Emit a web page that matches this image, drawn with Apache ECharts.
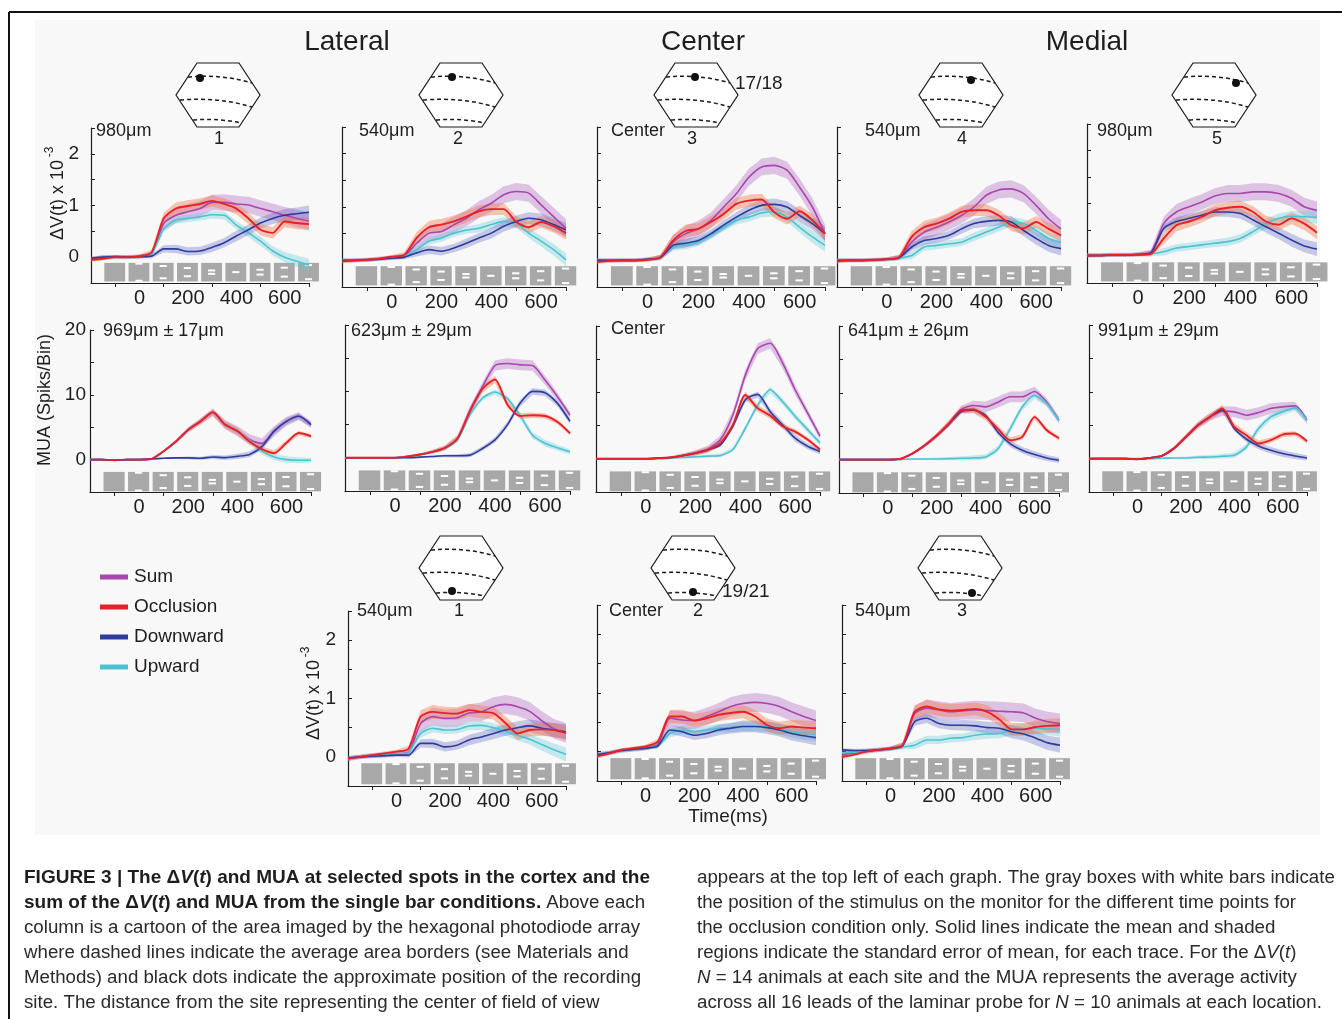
<!DOCTYPE html>
<html>
<head>
<meta charset="utf-8">
<script src="https://cdn.jsdelivr.net/npm/echarts@6/dist/echarts.min.js"></script>
<style>
html,body{margin:0;padding:0;background:#fff;}
#chart{width:1342px;height:1019px;}
</style>
</head>
<body>
<div id="chart"></div>
<script>
// ---------------- DATA ----------------
// time grid (ms)
const T = [-200,-150,-100,-50,0,50,100,150,200,250,300,350,400,450,500,550,600,650,700];

// x tick values / labels
const X_TICKS = [-100,100,300,500,700];
const X_LABELS = [0,200,400,600];
const DV_LABELS = [0,1,2];
const MUA_LABELS = [0,10,20];

// Row 1: dV(t) x 1e-3, upper sites (1..5)
const p1_sum  = [-0.03,0,0,0,0.01,0.06,0.65,0.81,0.88,0.94,1.06,1.06,1.03,1.01,0.94,0.88,0.81,0.75,0.70];
const p1_occ  = [-0.05,-0.03,0,0,0.02,0.09,0.75,0.94,0.99,1.03,1.09,1.03,0.94,0.75,0.53,0.47,0.69,0.66,0.64];
const p1_down = [-0.02,0,0.01,0,0.01,0.02,0.16,0.16,0.11,0.12,0.19,0.28,0.41,0.53,0.66,0.75,0.81,0.84,0.87];
const p1_up   = [-0.03,0,0,0,0.01,0.06,0.55,0.72,0.75,0.78,0.82,0.81,0.62,0.47,0.31,0.12,0,-0.08,-0.15];

const p2_sum  = [0,0,0.01,0.03,0.05,0.08,0.32,0.51,0.54,0.67,0.79,0.95,1.07,1.23,1.29,1.26,1.04,0.82,0.60];
const p2_occ  = [-0.02,0,0.01,0.03,0.07,0.10,0.42,0.62,0.67,0.73,0.82,0.92,0.96,0.96,0.72,0.62,0.72,0.64,0.51];
const p2_down = [0,0,0.01,0.02,0.04,0.06,0.14,0.20,0.17,0.23,0.32,0.42,0.51,0.64,0.73,0.79,0.76,0.67,0.57];
const p2_up   = [0,0,0.01,0.03,0.05,0.08,0.20,0.36,0.42,0.51,0.57,0.60,0.67,0.73,0.70,0.51,0.36,0.20,0.01];

const p3_sum  = [0,0,0,0,0.02,0.05,0.34,0.50,0.59,0.75,1.00,1.25,1.56,1.75,1.78,1.69,1.37,1.00,0.50];
const p3_occ  = [-0.03,-0.01,0,0,0.01,0.06,0.37,0.55,0.59,0.72,0.87,1.06,1.12,1.14,0.90,0.78,0.92,0.75,0.50];
const p3_down = [0,0,0,0,0.02,0.05,0.28,0.32,0.37,0.50,0.66,0.81,0.94,1.03,1.05,1.00,0.84,0.69,0.50];
const p3_up   = [0,0,0,0,0.02,0.05,0.25,0.28,0.34,0.47,0.62,0.75,0.81,0.89,0.91,0.81,0.62,0.44,0.28];

const p4_sum  = [0,0,0,0.01,0.02,0.05,0.34,0.53,0.62,0.72,0.84,1.00,1.22,1.32,1.34,1.25,1.03,0.78,0.59];
const p4_occ  = [-0.02,0,0,0.01,0.02,0.06,0.44,0.62,0.69,0.78,0.91,0.94,0.94,0.84,0.66,0.60,0.72,0.59,0.47];
const p4_down = [0,0,0,0.01,0.02,0.05,0.25,0.37,0.41,0.47,0.59,0.69,0.73,0.75,0.72,0.56,0.41,0.28,0.22];
const p4_up   = [0,0,0,0.01,0.02,0.04,0.09,0.25,0.28,0.31,0.34,0.44,0.53,0.62,0.72,0.69,0.56,0.41,0.34];

const p5_sum  = [0.02,0.02,0.03,0.03,0.04,0.08,0.62,0.84,0.94,1.03,1.14,1.19,1.19,1.22,1.22,1.19,1.10,0.94,0.87];
const p5_occ  = [0.02,0.02,0.03,0.03,0.03,0.05,0.34,0.59,0.66,0.75,0.87,0.92,0.94,0.84,0.66,0.60,0.72,0.62,0.45];
const p5_down = [0.02,0.02,0.03,0.03,0.04,0.07,0.53,0.66,0.72,0.78,0.84,0.84,0.81,0.69,0.56,0.44,0.31,0.20,0.14];
const p5_up   = [0.02,0.02,0.03,0.03,0.04,0.05,0.09,0.16,0.19,0.22,0.25,0.28,0.34,0.47,0.62,0.72,0.76,0.75,0.74];

// Row 2: MUA (spikes/bin)
const p6_sum  = [0,0,-0.1,0,0,0.1,1.3,2.8,4.6,5.9,7.3,5.4,4.4,3.1,2.5,4.4,5.9,6.7,5.4];
const p6_occ  = [0,0,-0.1,0,0,0.1,1.3,2.8,4.6,5.9,7.3,5.4,4.4,2.8,1.6,1.0,2.6,4.1,3.6];
const p6_down = [0,0,-0.1,0,0,0.1,0.2,0.26,0.26,0.2,0.4,0.3,0.5,0.8,2.0,4.4,5.9,6.7,5.4];
const p6_up   = [0,0,-0.1,0,0,0.1,1.3,2.8,4.6,5.9,7.3,5.4,4.4,3.0,1.3,0.4,0,-0.1,-0.1];

const p7_sum  = [0,0,0,0,0,0.2,0.5,0.9,1.5,2.9,7.2,10.7,13.9,14.2,14.0,13.9,11.7,9.2,6.4];
const p7_occ  = [0,0,0,0,0,0.2,0.5,0.9,1.5,2.9,7.0,10.4,11.8,8.0,6.3,6.4,6.3,5.4,3.7];
const p7_down = [0,0,0,0,0,0,0.1,0.2,0.3,0.3,0.4,1.4,2.7,5.0,8.2,10.0,9.8,8.2,5.5];
const p7_up   = [0,0,0,0,0,0.2,0.5,0.9,1.4,2.7,6.5,9.0,9.9,8.9,6.4,3.4,2.2,1.5,0.9];

const p8_sum  = [0,0,0,0,0,0.1,0.2,0.5,0.9,1.5,2.9,6.6,12.6,16.6,17.4,14.4,10.4,6.9,3.4];
const p8_occ  = [0,0,0,0,0,0.1,0.2,0.5,0.85,1.35,2.4,5.1,9.6,7.6,6.5,4.9,4.1,2.9,1.4];
const p8_down = [0,0,0,0,0,0.1,0.2,0.5,0.85,1.35,2.1,4.9,8.9,9.7,7.1,5.1,3.1,1.9,1.1];
const p8_up   = [0,0,0,0,0,0,0.1,0.2,0.3,0.4,0.5,1.4,4.6,8.1,10.4,8.6,6.4,4.4,2.4];

const p9_sum  = [0,0,0,0,0,0.1,0.9,2.1,3.6,5.4,7.5,8.1,7.9,8.6,9.4,9.4,10.2,8.6,5.9];
const p9_occ  = [0,0,0,0,0,0.1,0.9,2.1,3.6,5.4,7.4,7.5,6.4,4.6,2.9,3.4,6.4,4.4,3.2];
const p9_down = [0,0,0,0,0,0.1,0.9,2.1,3.6,5.3,7.2,7.4,6.6,4.1,2.4,1.4,0.75,0.25,-0.1];
const p9_up   = [0,0,0,0,0,0,0.1,0.1,0.1,0.15,0.2,0.25,0.4,1.6,4.6,7.9,9.6,8.4,5.9];

const p10_sum  = [0,0,0,0,-0.1,0.1,0.4,1.5,3.25,5.0,6.25,7.1,7.0,6.5,6.9,7.5,7.75,7.9,5.75];
const p10_occ  = [0,0,0,0,-0.1,0.1,0.4,1.5,3.25,5.0,6.25,7.5,4.75,3.5,2.25,2.75,3.6,3.75,2.6];
const p10_down = [0,0,0,0,-0.1,0.1,0.4,1.5,3.25,5.0,6.25,7.3,4.5,2.9,1.9,1.25,0.75,0.4,0.1];
const p10_up   = [0,0,0,0,0,0,0.05,0.1,0.1,0.2,0.25,0.35,0.5,1.75,4.5,6.25,7.0,7.6,5.75];

// Row 3: dV(t) x 1e-3, lower sites (1..3)
const p11_sum  = [-0.03,0,0.02,0.03,0.05,0.08,0.57,0.69,0.66,0.67,0.75,0.77,0.86,0.90,0.86,0.78,0.62,0.48,0.41];
const p11_occ  = [-0.03,0,0.03,0.06,0.09,0.14,0.69,0.77,0.75,0.74,0.80,0.77,0.75,0.58,0.40,0.46,0.47,0.46,0.41];
const p11_down = [-0.02,0,0.01,0.02,0.03,0.03,0.23,0.23,0.17,0.20,0.29,0.34,0.40,0.46,0.50,0.53,0.49,0.46,0.43];
const p11_up   = [-0.03,0,0.02,0.03,0.05,0.08,0.40,0.49,0.46,0.47,0.53,0.54,0.50,0.44,0.37,0.30,0.21,0.12,0.04];

const p12_sum  = [-0.05,-0.02,0.02,0.04,0.06,0.12,0.57,0.54,0.53,0.60,0.68,0.77,0.82,0.84,0.82,0.77,0.68,0.60,0.53];
const p12_occ  = [-0.08,-0.03,0.03,0.06,0.09,0.17,0.60,0.60,0.53,0.57,0.63,0.66,0.68,0.60,0.45,0.40,0.43,0.41,0.40];
const p12_down = [-0.05,-0.02,0.02,0.04,0.06,0.10,0.37,0.34,0.28,0.31,0.37,0.40,0.43,0.43,0.41,0.37,0.31,0.27,0.24];
const p12_up   = [-0.05,-0.02,0.02,0.04,0.06,0.10,0.31,0.37,0.34,0.37,0.40,0.41,0.43,0.43,0.43,0.38,0.34,0.31,0.30];

const p13_sum  = [-0.05,-0.02,0.01,0.03,0.05,0.10,0.65,0.74,0.71,0.68,0.70,0.71,0.70,0.69,0.68,0.66,0.57,0.51,0.48];
const p13_occ  = [-0.09,-0.05,0,0.03,0.06,0.11,0.68,0.77,0.72,0.70,0.71,0.73,0.68,0.55,0.38,0.38,0.42,0.44,0.45];
const p13_down = [0.03,0.02,0.02,0.03,0.05,0.10,0.51,0.57,0.48,0.45,0.45,0.44,0.41,0.40,0.34,0.30,0.23,0.15,0.11];
const p13_up   = [-0.02,-0.01,0.01,0.03,0.05,0.08,0.11,0.20,0.20,0.23,0.24,0.28,0.30,0.31,0.37,0.38,0.40,0.39,0.38];

// standard-error profiles (shaded regions)
const dv_sum_se  = [0.04,0.04,0.04,0.04,0.04,0.05,0.13,0.15,0.15,0.15,0.15,0.16,0.16,0.16,0.16,0.16,0.16,0.17,0.17];
const dv_occ_se  = [0.04,0.03,0.03,0.03,0.03,0.05,0.11,0.12,0.11,0.11,0.11,0.11,0.11,0.11,0.11,0.11,0.11,0.12,0.12];
const dv_down_se = [0.03,0.03,0.03,0.03,0.03,0.04,0.07,0.08,0.08,0.08,0.09,0.09,0.10,0.10,0.11,0.11,0.12,0.12,0.13];
const dv_up_se   = [0.03,0.03,0.03,0.03,0.03,0.04,0.07,0.07,0.07,0.07,0.07,0.08,0.08,0.08,0.09,0.09,0.10,0.11,0.12];
const mua_sum_se  = [0.15,0.15,0.15,0.15,0.15,0.15,0.2,0.3,0.4,0.5,0.6,0.7,0.8,0.8,0.8,0.8,0.7,0.6,0.5];
const mua_occ_se  = [0.1,0.1,0.1,0.1,0.1,0.1,0.15,0.25,0.35,0.45,0.5,0.55,0.55,0.5,0.45,0.4,0.4,0.35,0.3];
const mua_down_se = [0.1,0.1,0.1,0.1,0.1,0.1,0.12,0.15,0.2,0.25,0.3,0.35,0.4,0.45,0.5,0.5,0.5,0.45,0.4];
const mua_up_se   = [0.1,0.1,0.1,0.1,0.1,0.1,0.12,0.15,0.2,0.25,0.3,0.35,0.4,0.45,0.5,0.5,0.5,0.45,0.4];

// stimulus boxes: start time of each box (ms), box duration, white bar offsets
const BOX_START = [-145,-45,55,155,255,355,455,555,655];
const BOX_DUR = 86;
const BAR_OFFSETS = [[],[0.46,-0.46],[0.33,-0.33],[0.22,-0.22],[0.09,-0.09],[0],[0.13,-0.13],[0.24,-0.24],[0.38,-0.38]];

// panel header labels
const ROW1_LABELS = ['980μm','540μm','Center','540μm','980μm'];
const ROW2_LABELS = ['969μm ± 17μm','623μm ± 29μm','Center','641μm ± 26μm','991μm ± 29μm'];
const ROW3_LABELS = ['540μm','Center','540μm'];
const LEGEND_NAMES = ['Sum','Occlusion','Downward','Upward'];

// ---------------- LAYOUT / STYLE ----------------
const GRIDS = [
  [91,128,218,155],[342,127,224,160],[597,127,228,160],[837,127,224,160],[1087,124,230,159],
  [90,330,221,162],[345,325,225,166],[596,326,224,166],[839,326,220,167],[1089,325,218,167],
  [348,611,218,175],[597,605,219,176],[842,605,218,176]
];
const PANEL_DATA = [
  [p1_sum,p1_occ,p1_down,p1_up],[p2_sum,p2_occ,p2_down,p2_up],[p3_sum,p3_occ,p3_down,p3_up],
  [p4_sum,p4_occ,p4_down,p4_up],[p5_sum,p5_occ,p5_down,p5_up],
  [p6_sum,p6_occ,p6_down,p6_up],[p7_sum,p7_occ,p7_down,p7_up],[p8_sum,p8_occ,p8_down,p8_up],
  [p9_sum,p9_occ,p9_down,p9_up],[p10_sum,p10_occ,p10_down,p10_up],
  [p11_sum,p11_occ,p11_down,p11_up],[p12_sum,p12_occ,p12_down,p12_up],[p13_sum,p13_occ,p13_down,p13_up]
];
const PANEL_KIND = ['dv','dv','dv','dv','dv','mua','mua','mua','mua','mua','dv','dv','dv'];
const SE = {
  dv:[dv_sum_se,dv_occ_se,dv_down_se,dv_up_se],
  mua:[mua_sum_se,mua_occ_se,mua_down_se,mua_up_se]
};
const LABELLED = [0,5,10];
const LINE_COLORS = ['#a847ad','#e8202a','#2e3c9c','#4ec3d0'];
const BAND_COLORS = ['rgba(178,100,190,0.36)','rgba(242,115,70,0.40)','rgba(75,85,190,0.30)','rgba(95,200,215,0.33)'];
const FONT = '"Liberation Sans", Arial, Helvetica, sans-serif';
const INK = '#1e1e1e';

// ---------------- BUILD ----------------
const chart = echarts.init(document.getElementById('chart'), null, {renderer:'canvas'});

const grid = [], xAxis = [], yAxis = [], series = [];
GRIDS.forEach((g, i) => {
  const kind = PANEL_KIND[i];
  grid.push({left:g[0], top:g[1], width:g[2], height:g[3], outerBoundsMode:'none'});
  xAxis.push({
    type:'value', gridIndex:i, min:-200, max:700, interval:100,
    axisLine:{onZero:false, lineStyle:{color:INK, width:1.2}},
    axisTick:{show:true, length:4, inside:false, customValues:X_TICKS, lineStyle:{color:INK}},
    axisLabel:{show:true, customValues:X_LABELS, fontSize:20, color:INK, fontFamily:FONT, margin:5},
    splitLine:{show:false}
  });
  const isDV = kind === 'dv';
  yAxis.push({
    type:'value', gridIndex:i,
    min: isDV ? -0.5 : -5, max: isDV ? 2.5 : 20, interval: isDV ? 0.5 : 5,
    axisLine:{show:true, onZero:false, lineStyle:{color:INK, width:1.2}},
    axisTick:{show:true, inside:true, length:4, lineStyle:{color:INK}},
    axisLabel:{show: LABELLED.indexOf(i) >= 0, customValues: isDV ? DV_LABELS : MUA_LABELS,
               fontSize:19, color:INK, fontFamily:FONT, margin: isDV ? 12 : 4},
    splitLine:{show:false}
  });
});

// stimulus boxes
GRIDS.forEach((g, i) => {
  const isDV = PANEL_KIND[i] === 'dv';
  const yLo = isDV ? -0.47 : -4.9, yHi = isDV ? -0.11 : -1.9;
  series.push({
    type:'custom', xAxisIndex:i, yAxisIndex:i, silent:true, z:1,
    encode:{x:[0,1], y:[2,3]},
    data: BOX_START.map((s, k) => [s, s + BOX_DUR, yLo, yHi, k]),
    renderItem: function(params, api){
      const p0 = api.coord([api.value(0), api.value(3)]);
      const p1 = api.coord([api.value(1), api.value(2)]);
      const w = p1[0]-p0[0], h = p1[1]-p0[1];
      const k = api.value(4);
      const children = [{type:'rect', shape:{x:p0[0], y:p0[1], width:w, height:h}, style:{fill:'#a8a8a8'}}];
      BAR_OFFSETS[k].forEach(o => {
        const cy = p0[1] + h/2 - o*h;
        children.push({type:'rect', shape:{x:p0[0]+w*0.33, y:cy-1, width:w*0.34, height:2}, style:{fill:'#ffffff'}});
      });
      return {type:'group', children};
    }
  });
});

// bands: one polygon per trace built from [t, lower, upper] data via the axes
function renderBand(color){
  return function(params, api){
    if (params.dataIndex !== 0) return null;
    const n = params.dataInsideLength !== undefined ? params.dataInsideLength : T.length;
    const top = [], bot = [];
    for (let j = 0; j < T.length; j++) {
      const t = api.value(0, j);
      top.push(api.coord([t, api.value(2, j)]));
      bot.push(api.coord([t, api.value(1, j)]));
    }
    return {type:'polygon', shape:{points: top.concat(bot.reverse())}, style:{fill:color}};
  };
}
const ORDER = [0,3,2,1];
GRIDS.forEach((g, i) => {
  const se = SE[PANEL_KIND[i]];
  ORDER.forEach(k => {
    const m = PANEL_DATA[i][k], e = se[k];
    series.push({type:'custom', xAxisIndex:i, yAxisIndex:i, silent:true, z:2,
      encode:{x:0, y:[1,2]},
      data: T.map((t, j) => [t, +(m[j]-e[j]).toFixed(3), +(m[j]+e[j]).toFixed(3)]),
      renderItem: renderBand(BAND_COLORS[k])});
  });
});
// mean lines
GRIDS.forEach((g, i) => {
  ORDER.forEach(k => {
    series.push({type:'line', xAxisIndex:i, yAxisIndex:i, symbol:'none', smooth:0.25, silent:true, z:3,
      lineStyle:{color:LINE_COLORS[k], width: k===1 ? 1.9 : 1.6},
      data: T.map((t, j) => [t, PANEL_DATA[i][k][j]])});
  });
});

// ---------------- GRAPHICS ----------------
const G = [];
G.push({type:'rect', shape:{x:35, y:20, width:1285, height:815}, style:{fill:'#f8f8f8'}, z:-10});
G.push({type:'line', shape:{x1:9, y1:12, x2:1342, y2:12}, style:{stroke:'#111', lineWidth:2}});
G.push({type:'line', shape:{x1:9, y1:12, x2:9, y2:1019}, style:{stroke:'#111', lineWidth:2}});

function txt(x, y, s, size, opts){
  return Object.assign({type:'text', x, y, style:Object.assign({text:s, fontSize:size, fontFamily:FONT, fill:INK,
    textAlign:'left', verticalAlign:'middle'}, (opts && opts.style) || {})},
    opts && opts.rotation !== undefined ? {rotation:opts.rotation} : {});
}
// column headers
G.push(txt(347, 42, 'Lateral', 28, {style:{textAlign:'center'}}));
G.push(txt(703, 42, 'Center', 28, {style:{textAlign:'center'}}));
G.push(txt(1087, 42, 'Medial', 28, {style:{textAlign:'center'}}));

// hexagons
function hex(cx, cy, dx, dy){
  const w=42, h=32, a=21;
  const dash = {fill:'none', stroke:'#1a1a1a', lineWidth:1.5, lineDash:[4,3]};
  return {type:'group', children:[
    {type:'polygon', shape:{points:[[cx-a,cy-h],[cx+a,cy-h],[cx+w,cy],[cx+a,cy+h],[cx-a,cy+h],[cx-w,cy]]},
      style:{fill:'#ffffff', stroke:'#1a1a1a', lineWidth:1.2}},
    {type:'bezierCurve', shape:{x1:cx-30,y1:cy-18,x2:cx+34,y2:cy-12,cpx1:cx+4,cpy1:cy-21}, style:dash},
    {type:'bezierCurve', shape:{x1:cx-38,y1:cy+5,x2:cx+34,y2:cy+12,cpx1:cx+2,cpy1:cy+2}, style:dash},
    {type:'bezierCurve', shape:{x1:cx-25,y1:cy+25,x2:cx+23,y2:cy+28,cpx1:cx,cpy1:cy+23}, style:dash},
    {type:'circle', shape:{cx:cx+dx, cy:cy+dy, r:4}, style:{fill:'#111'}}
  ]};
}
const HEX = [[218,95,-18,-17],[461,95,-9,-18],[696,95,-1,-18],[961,95,10,-15],[1214,95,22,-12],
             [461,568,-9,23],[693,568,0,24],[960,568,12,25]];
HEX.forEach(hh => G.push(hex(hh[0], hh[1], hh[2], hh[3])));

// hex numbers
[[219,139,'1'],[458,139,'2'],[692,139,'3'],[962,139,'4'],[1217,139,'5'],
 [459,611,'1'],[698,611,'2'],[962,611,'3']].forEach(n => G.push(txt(n[0], n[1], n[2], 18, {style:{textAlign:'center'}})));
G.push(txt(735, 84, '17/18', 19));
G.push(txt(722, 592, '19/21', 19));

// panel labels
[96,359,611,865,1097].forEach((x, i) => G.push(txt(x, 131, ROW1_LABELS[i], 18)));
[103,351,611,848,1098].forEach((x, i) => G.push(txt(x, i===2 ? 329 : 331, ROW2_LABELS[i], 18)));
[357,609,855].forEach((x, i) => G.push(txt(x, 611, ROW3_LABELS[i], 18)));

// y-axis titles
G.push(txt(58, 200, 'ΔV(t) x 10', 18, {rotation:Math.PI/2, style:{textAlign:'center'}}));
G.push(txt(50, 152, '-3', 12, {rotation:Math.PI/2, style:{textAlign:'center'}}));
G.push(txt(314, 700, 'ΔV(t) x 10', 18, {rotation:Math.PI/2, style:{textAlign:'center'}}));
G.push(txt(306, 652, '-3', 12, {rotation:Math.PI/2, style:{textAlign:'center'}}));
G.push(txt(45, 400, 'MUA (Spiks/Bin)', 18, {rotation:Math.PI/2, style:{textAlign:'center'}}));
G.push(txt(728, 817, 'Time(ms)', 19, {style:{textAlign:'center'}}));

// legend
LEGEND_NAMES.forEach((nm, k) => {
  const y = 577 + 30*k;
  G.push({type:'rect', shape:{x:100, y:y-2.5, width:28, height:5}, style:{fill:LINE_COLORS[k]}});
  G.push(txt(134, y, nm, 19));
});

// caption
const RICH = {
  b:{fontWeight:'bold', fontSize:19, fontFamily:FONT, fill:INK},
  bi:{fontWeight:'bold', fontStyle:'italic', fontSize:19, fontFamily:FONT, fill:INK},
  r:{fontSize:18.7, fontFamily:FONT, fill:'#2a2a2a'},
  i:{fontStyle:'italic', fontSize:18.7, fontFamily:FONT, fill:'#2a2a2a'}
};
const CAP_L = [
  '{b|FIGURE 3 | The Δ}{bi|V}{b|(}{bi|t}{b|) and MUA at selected spots in the cortex and the}',
  '{b|sum of the Δ}{bi|V}{b|(}{bi|t}{b|) and MUA from the single bar conditions.}{r| Above each}',
  '{r|column is a cartoon of the area imaged by the hexagonal photodiode array}',
  '{r|where dashed lines indicate the average area borders (see Materials and}',
  '{r|Methods) and black dots indicate the approximate position of the recording}',
  '{r|site. The distance from the site representing the center of field of view}'
];
const CAP_R = [
  '{r|appears at the top left of each graph. The gray boxes with white bars indicate}',
  '{r|the position of the stimulus on the monitor for the different time points for}',
  '{r|the occlusion condition only. Solid lines indicate the mean and shaded}',
  '{r|regions indicate the standard error of mean, for each trace. For the Δ}{i|V}{r|(}{i|t}{r|)}',
  '{i|N}{r| = 14 animals at each site and the MUA represents the average activity}',
  '{r|across all 16 leads of the laminar probe for }{i|N}{r| = 10 animals at each location.}'
];
CAP_L.forEach((s, j) => G.push({type:'text', x:24, y:878+25*j, style:{text:s, rich:RICH, fontSize:18.7, fontFamily:FONT, fill:INK, textAlign:'left', verticalAlign:'middle'}}));
CAP_R.forEach((s, j) => G.push({type:'text', x:697, y:878+25*j, style:{text:s, rich:RICH, fontSize:18.7, fontFamily:FONT, fill:INK, textAlign:'left', verticalAlign:'middle'}}));

chart.setOption({
  animation:false,
  backgroundColor:'#ffffff',
  grid, xAxis, yAxis, series,
  graphic:{elements:G}
});
</script>
</body>
</html>
